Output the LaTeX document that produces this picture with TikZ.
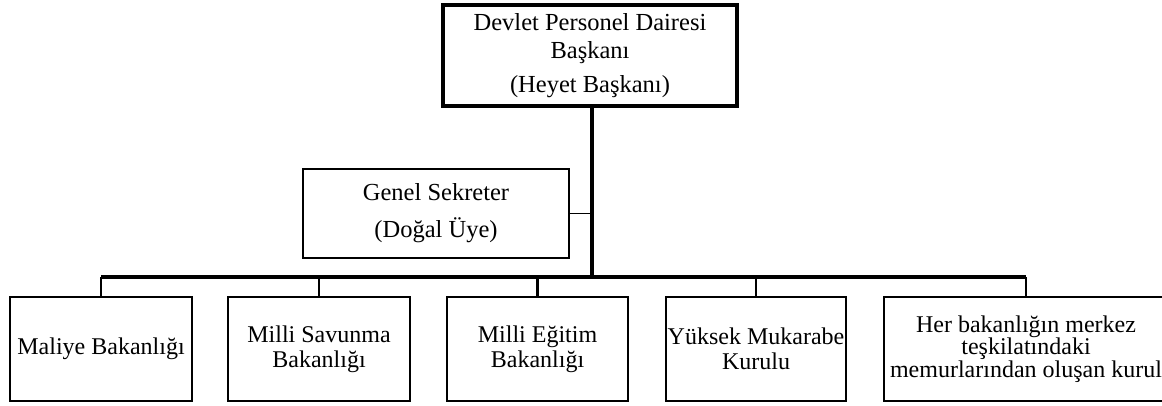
\documentclass[tikz,border=0pt]{standalone}
\usepackage{fontspec}
\setmainfont{Liberation Serif}
\usepackage{tikz}
\usetikzlibrary{calc}
\tikzset{>=stealth,
  kutu/.style={draw,align=center,inner sep=0pt,line width=2.8pt,
    font=\fontsize{24}{25}\selectfont,minimum height=104pt},
  hat/.style={line width=3.2pt}}

\begin{document}
\begin{tikzpicture}[x=1pt,y=-1pt]
  \useasboundingbox (0,0) rectangle (1162,405);

  % baskan ve sekreter
  \node[draw,line width=3.2pt,align=center,inner sep=0pt,minimum width=294pt,minimum height=101pt,
    font=\fontsize{24.5}{28}\selectfont] at (590,55.5) (bsk)
    {Devlet Personel Dairesi\\Başkanı\\[6pt](Heyet Başkanı)};
  \node[draw,line width=1.8pt,align=center,inner sep=0pt,minimum width=266pt,minimum height=89pt,
    font=\fontsize{24.5}{37}\selectfont] at (436,213.5) (gs)
    {Genel Sekreter\\(Doğal Üye)};
  \coordinate (bus) at (592,277);

  % kurullar
  \node[kutu,minimum width=182pt] at (101,349) (m1) {Maliye Bakanlığı};
  \node[kutu,minimum width=182pt] at (319,349) (m2) {Milli Savunma\\Bakanlığı};
  \node[kutu,minimum width=181pt] at (537.5,349) (m3) {Milli Eğitim\\Bakanlığı};
  \node[kutu,minimum width=180pt] at (756,349) (m4) {Yüksek Mukarabe\\Kurulu};
  \node[kutu,minimum width=284pt,font=\fontsize{24}{22.5}\selectfont] at (1026,349) (m5)
    {Her bakanlığın merkez\\teşkilatındaki\\memurlarından oluşan kurul};

  \draw[hat] (bsk.south -| bus) -- (bus);
  \draw[line width=1.8pt] (gs.east) -- (gs.east -| bus);
  \draw[hat] (m1.north |- bus) -- (m5.north |- bus);
  \foreach \i in {1,...,5}
    \draw[line width=2.4pt] (m\i.north) -- (m\i.north |- bus);

\end{tikzpicture}
\end{document}
